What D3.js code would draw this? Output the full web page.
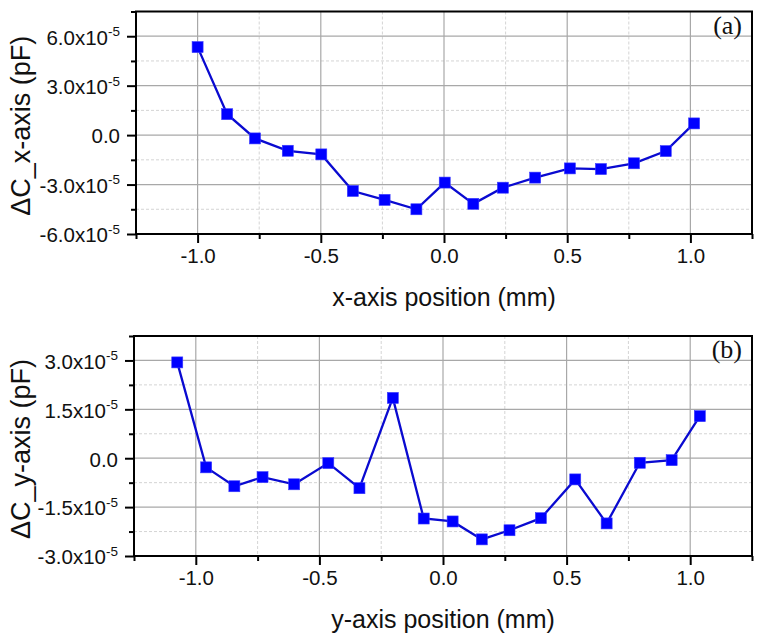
<!DOCTYPE html>
<html><head><meta charset="utf-8">
<script src="https://cdn.jsdelivr.net/npm/d3@7"></script>
<style>
html,body{margin:0;padding:0;background:#fff;}
svg{display:block;font-family:"Liberation Sans",Arial,sans-serif;}
</style></head>
<body><svg id="c" width="764" height="636"></svg>
<script>
// ---- data ----
const xPosA = [-1.0, -0.88, -0.767, -0.634, -0.498, -0.37, -0.241, -0.112, 0.003, 0.119, 0.239, 0.37, 0.511, 0.637, 0.771, 0.9, 1.015];
const dCx = [5.34e-5, 1.27e-5, -0.2e-5, -0.95e-5, -1.17e-5, -3.39e-5, -3.93e-5, -4.5e-5, -2.88e-5, -4.17e-5, -3.19e-5, -2.58e-5, -2.02e-5, -2.06e-5, -1.71e-5, -0.97e-5, 0.71e-5];
const xPosB = [-1.075, -0.958, -0.844, -0.730, -0.602, -0.464, -0.338, -0.203, -0.078, 0.039, 0.157, 0.269, 0.396, 0.535, 0.662, 0.796, 0.925, 1.039];
const dCy = [2.94e-5, -0.28e-5, -0.86e-5, -0.58e-5, -0.80e-5, -0.15e-5, -0.92e-5, 1.85e-5, -1.85e-5, -1.94e-5, -2.49e-5, -2.21e-5, -1.84e-5, -0.65e-5, -2.0e-5, -0.14e-5, -0.06e-5, 1.29e-5];
const xTicks = [-1.0, -0.5, 0.0, 0.5, 1.0];
const xMinor = [-1.25, -0.75, -0.25, 0.25, 0.75, 1.25];
const yTicksA = [-6e-5, -3e-5, 0, 3e-5, 6e-5];
const yMinorA = [-4.5e-5, -1.5e-5, 1.5e-5, 4.5e-5, 7.5e-5];
const yTicksB = [-3e-5, -1.5e-5, 0, 1.5e-5, 3e-5];
const yMinorB = [-2.25e-5, -0.75e-5, 0.75e-5, 2.25e-5, 3.75e-5];

const svg = d3.select("#c");
const fmtX = d => d.toFixed(1); // plain hyphen-minus

function panel(o){
  const x = d3.scaleLinear().domain(o.xDom).range([o.left, o.right]);
  const y = d3.scaleLinear().domain(o.yDom).range([o.bottom, o.top]);
  const g = svg.append("g");
  // grid
  g.selectAll(".vmin").data(o.xMinor.filter(v=>v>o.xDom[0]&&v<o.xDom[1])).join("line")
    .attr("x1",d=>x(d)).attr("x2",d=>x(d)).attr("y1",o.top).attr("y2",o.bottom)
    .attr("stroke","#d4d4d4").attr("stroke-width",1).attr("stroke-dasharray","3,2");
  g.selectAll(".hmin").data(o.yMinor.filter(v=>v>o.yDom[0]&&v<o.yDom[1])).join("line")
    .attr("x1",o.left).attr("x2",o.right).attr("y1",d=>y(d)).attr("y2",d=>y(d))
    .attr("stroke","#d4d4d4").attr("stroke-width",1).attr("stroke-dasharray","3,2");
  g.selectAll(".vmaj").data(o.xTicks).join("line")
    .attr("x1",d=>x(d)).attr("x2",d=>x(d)).attr("y1",o.top).attr("y2",o.bottom)
    .attr("stroke","#a8a8a8").attr("stroke-width",1.2);
  g.selectAll(".hmaj").data(o.yTicks.filter(v=>v>o.yDom[0])).join("line")
    .attr("x1",o.left).attr("x2",o.right).attr("y1",d=>y(d)).attr("y2",d=>y(d))
    .attr("stroke","#a8a8a8").attr("stroke-width",1.2);
  // frame
  g.append("rect").attr("x",o.left).attr("y",o.top).attr("width",o.right-o.left).attr("height",o.bottom-o.top)
    .attr("fill","none").attr("stroke","#000").attr("stroke-width",2);
  // axes
  const xa = g.append("g").attr("transform",`translate(0,${o.bottom})`)
    .call(d3.axisBottom(x).tickValues(o.xTicks).tickSize(9).tickPadding(5).tickFormat(fmtX));
  xa.select(".domain").remove();
  xa.selectAll(".tick line").attr("stroke","#000").attr("stroke-width",2);
  xa.selectAll(".tick text").attr("font-size",20.5).attr("fill","#111")
    .attr("font-family","Liberation Sans, Arial, sans-serif");
  const xm = g.append("g").attr("transform",`translate(0,${o.bottom})`)
    .call(d3.axisBottom(x).tickValues(o.xMinor).tickSize(5).tickFormat(""));
  xm.select(".domain").remove();
  xm.selectAll(".tick line").attr("stroke","#000").attr("stroke-width",2);

  const ya = g.append("g").attr("transform",`translate(${o.left},0)`)
    .call(d3.axisLeft(y).tickValues(o.yTicks).tickSize(9).tickPadding(7).tickFormat(""));
  ya.select(".domain").remove();
  ya.selectAll(".tick line").attr("stroke","#000").attr("stroke-width",2);
  ya.selectAll(".tick").each(function(d){
    const t = d3.select(this).append("text").attr("x",-16).attr("dy","0.38em")
      .attr("text-anchor","end").attr("fill","#111").attr("font-size",20.5)
      .attr("font-family","Liberation Sans, Arial, sans-serif");
    if (Math.abs(d) < 1e-12) { t.text("0.0"); }
    else {
      const m = d/1e-5;
      t.append("tspan").text(m.toFixed(1)+"x10");
      t.append("tspan").attr("font-size",13.5).attr("dy","-0.62em").text("-5");
    }
  });
  const ym = g.append("g").attr("transform",`translate(${o.left},0)`)
    .call(d3.axisLeft(y).tickValues(o.yMinor).tickSize(5).tickFormat(""));
  ym.select(".domain").remove();
  ym.selectAll(".tick line").attr("stroke","#000").attr("stroke-width",2);

  // line + markers
  const pts = o.xs.map((v,i)=>[v,o.ys[i]]);
  g.append("path").datum(pts)
    .attr("d",d3.line().x(d=>x(d[0])).y(d=>y(d[1])))
    .attr("fill","none").attr("stroke","#0a0ad0").attr("stroke-width",2.3);
  const s = 11;
  g.selectAll(".pt").data(pts).join("rect")
    .attr("x",d=>x(d[0])-s/2).attr("y",d=>y(d[1])-s/2).attr("width",s).attr("height",s)
    .attr("fill","#0000ff").attr("stroke","#3a3aff").attr("stroke-width",0.6);

  // labels
  g.append("text").attr("x",(o.left+o.right)/2).attr("y",o.bottom+72)
    .attr("text-anchor","middle").attr("font-size",25).attr("fill","#111").text(o.xLabel);
  g.append("text").attr("transform",`translate(30,${(o.top+o.bottom)/2+3}) rotate(-90)`)
    .attr("text-anchor","middle").attr("font-size",27).attr("fill","#111").text(o.yLabel);
  g.append("text").attr("x",o.right-10).attr("y",o.top+22)
    .attr("text-anchor","end").attr("font-size",26).attr("fill","#111")
    .attr("font-family","Liberation Serif, Times New Roman, serif").text(o.tag);
}

panel({left:136,right:752,top:11.5,bottom:234,xDom:[-1.25,1.25],yDom:[-6e-5,7.5e-5],
  xTicks:xTicks,xMinor:xMinor,yTicks:yTicksA,yMinor:yMinorA,xs:xPosA,ys:dCx,
  xLabel:"x-axis position (mm)",yLabel:"ΔC_x-axis (pF)",tag:"(a)"});
panel({left:134,right:752,top:336,bottom:556,xDom:[-1.25,1.25],yDom:[-3e-5,3.75e-5],
  xTicks:xTicks,xMinor:xMinor,yTicks:yTicksB,yMinor:yMinorB,xs:xPosB,ys:dCy,
  xLabel:"y-axis position (mm)",yLabel:"ΔC_y-axis (pF)",tag:"(b)"});
</script></body></html>
